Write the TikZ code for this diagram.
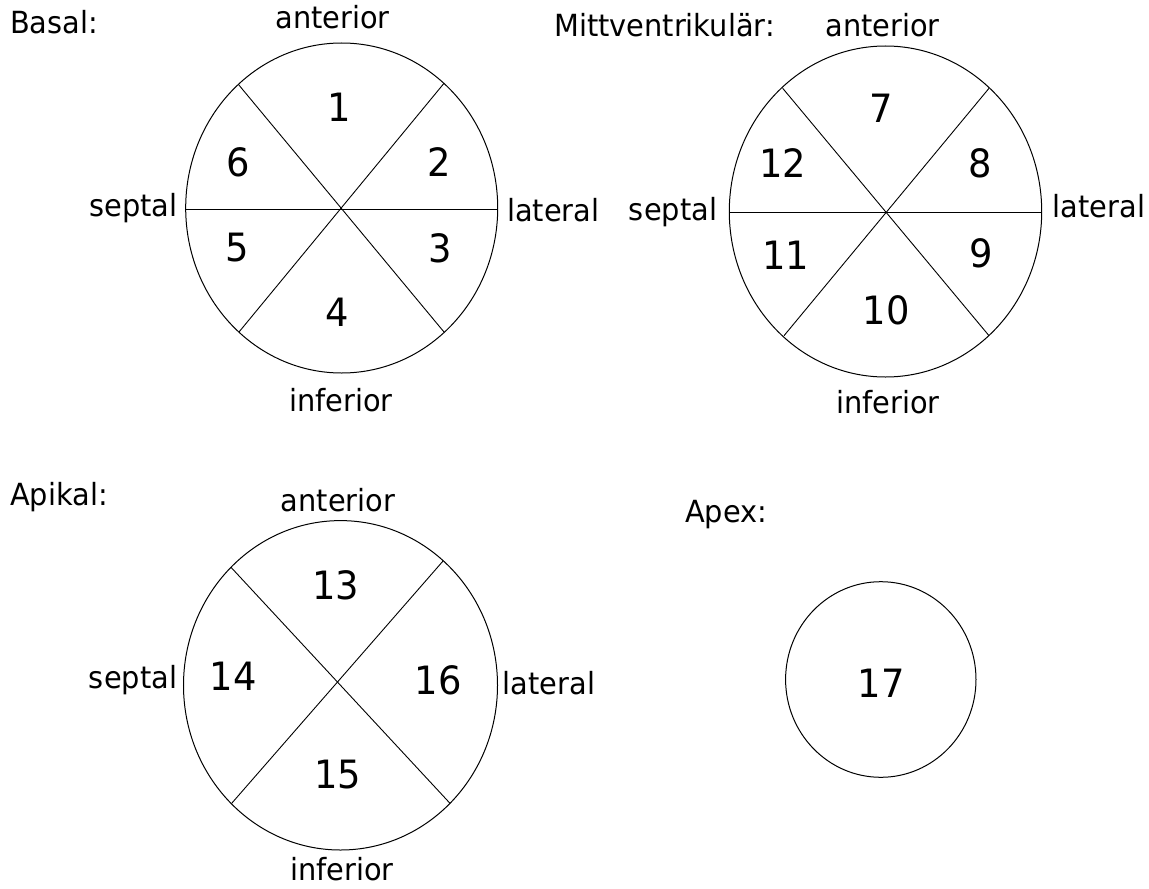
\documentclass[tikz,border=0pt]{standalone}
\usepackage{fontspec}
\setmainfont{DejaVu Sans}[FakeStretch=0.945]
\begin{document}
\begin{tikzpicture}[x=1bp,y=-1bp,
  ring/.style={line width=1bp, draw=black},
  divider/.style={line width=0.9bp, draw=black},
  lbl/.style={inner sep=0pt, anchor=base, font=\fontsize{30.5bp}{36bp}\selectfont},
  ttl/.style={inner sep=0pt, anchor=base west, font=\fontsize{30.5bp}{36bp}\selectfont},
  num/.style={inner sep=0pt, anchor=center, font=\fontsize{39bp}{46bp}\selectfont}]
\useasboundingbox (0,0) rectangle (1149,889);

% ---------- Basal ----------
\node[ttl] (tBasal) at (10,33.3) {Basal:};
\draw[ring] (341.7,208) ellipse [x radius=156bp, y radius=165bp];
\coordinate (b-w) at (185.7,209); \coordinate (b-e) at (497.7,209);
\coordinate (b-nw) at (238.3,84.3); \coordinate (b-se) at (444,332);
\coordinate (b-ne) at (444,83.3); \coordinate (b-sw) at (239,332);
\draw[divider] (b-w) -- (b-e);
\draw[divider] (b-nw) -- (b-se);
\draw[divider] (b-ne) -- (b-sw);
\node[lbl] (bAnt) at (332.5,28.5) {anterior};
\node[lbl] (bInf) at (341,411.7) {inferior};
\node[lbl] (bSep) at (133.3,216) {septal};
\node[lbl] (bLat) at (553.3,221.5) {lateral};
\node[num] (n1) at (339,107) {1};
\node[num] (n2) at (439,162) {2};
\node[num] (n3) at (440,248) {3};
\node[num] (n4) at (337,312) {4};
\node[num] (n5) at (237,248) {5};
\node[num] (n6) at (238,162) {6};

% ---------- Mittventrikulär ----------
\node[ttl] (tMid) at (554,36) {Mittventrikulär:};
\draw[ring] (885.5,211.5) ellipse [x radius=156.2bp, y radius=165.5bp];
\coordinate (m-w) at (729.3,212.3); \coordinate (m-e) at (1041.7,212.3);
\coordinate (m-nw) at (782.7,88.3); \coordinate (m-se) at (989,335.7);
\coordinate (m-ne) at (989,88.3); \coordinate (m-sw) at (784,335.7);
\draw[divider] (m-w) -- (m-e);
\draw[divider] (m-nw) -- (m-se);
\draw[divider] (m-ne) -- (m-sw);
\node[lbl] (mAnt) at (882.5,36) {anterior};
\node[lbl] (mInf) at (888,413) {inferior};
\node[lbl] (mSep) at (673,220.7) {septal};
\node[lbl] (mLat) at (1099,217.3) {lateral};
\node[num] (n7) at (881.7,108) {7};
\node[num] (n8) at (980,163) {8};
\node[num] (n9) at (981.7,253) {9};
\node[num] (n10) at (886,310) {10};
\node[num] (n11) at (785.7,255) {11};
\node[num] (n12) at (783,163) {12};

% ---------- Apikal ----------
\node[ttl] (tApi) at (10,505) {Apikal:};
\draw[ring] (340.5,685.3) ellipse [x radius=157bp, y radius=164.7bp];
\coordinate (a-nw) at (231,567.3); \coordinate (a-se) at (450,803.3);
\coordinate (a-ne) at (443.3,560.7); \coordinate (a-sw) at (231.7,803.3);
\draw[divider] (a-nw) -- (a-se);
\draw[divider] (a-ne) -- (a-sw);
\node[lbl] (aAnt) at (338,511) {anterior};
\node[lbl] (aInf) at (342,880) {inferior};
\node[lbl] (aSep) at (133,688) {septal};
\node[lbl] (aLat) at (549,694) {lateral};
\node[num] (n13) at (335.7,585) {13};
\node[num] (n14) at (233.3,676.7) {14};
\node[num] (n15) at (337.7,775) {15};
\node[num] (n16) at (438.3,680) {16};

% ---------- Apex ----------
\node[ttl] (tApex) at (685,522) {Apex:};
\draw[ring] (880.8,679.5) ellipse [x radius=95.2bp, y radius=97.8bp];
\node[num] (n17) at (881,683.3) {17};
\end{tikzpicture}
\end{document}
